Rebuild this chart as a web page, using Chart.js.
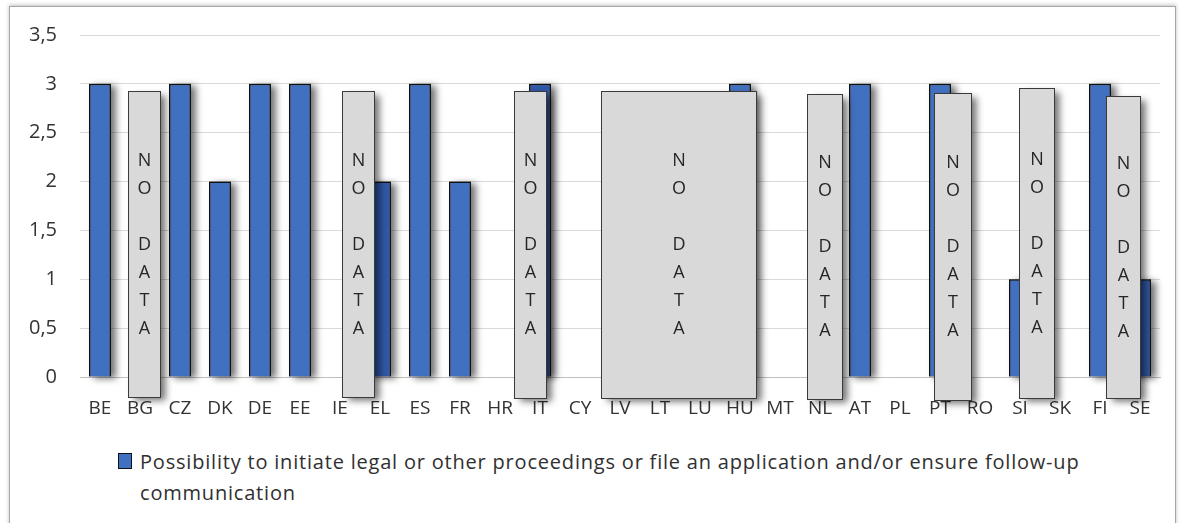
<!DOCTYPE html>
<html lang="en">
<head>
  <meta charset="UTF-8">
  <title>Possibility to initiate proceedings</title>
  <script src="https://cdn.jsdelivr.net/npm/chart.js"></script>
  <style>
    html, body { margin: 0; padding: 0; background: #fff; overflow: hidden; }
    body { width: 1181px; height: 523px; position: relative; font-family: "Open Sans", sans-serif; }
    .frame {
      position: absolute; left: 9px; top: 6px; width: 1165px; height: 540px;
      border: 1px solid #a6a6a6; box-shadow: 0 -1px 4px rgba(0,0,0,0.25);
    }
    #chart { position: absolute; left: 0; top: 0; }
    .legend {
      position: absolute; left: 118px; top: 446px; width: 1050px;
      font-size: 20px; line-height: 31px; letter-spacing: 0.8px; color: #303030;
    }
    .legend .swatch {
      position: absolute; left: 0; top: 7px; width: 12px; height: 14px;
      background: #4070bf; border: 1px solid #111;
    }
    .legend .text { margin-left: 22px; }
  </style>
</head>
<body>
  <div class="frame"></div>
  <canvas id="chart" width="1181" height="430"></canvas>
  <div class="legend">
    <span class="swatch"></span>
    <div class="text">Possibility to initiate legal or other proceedings or file an application and/or ensure follow-up<br>communication</div>
  </div>

  <script>
    // Data (null = hidden behind a "NO DATA" box)
    const countries = ["BE", "BG", "CZ", "DK", "DE", "EE", "IE", "EL", "ES", "FR", "HR", "IT", "CY", "LV",
      "LT", "LU", "HU", "MT", "NL", "AT", "PL", "PT", "RO", "SI", "SK", "FI", "SE"];
    const scores = [3, null, 3, 2, 3, 3, null, 2, 3, 2, 0, 3, 0, null,
      null, null, 3, 0, null, 3, 0, 3, 0, 1, 0, 3, 1];
    const yTicks = [0, 0.5, 1, 1.5, 2, 2.5, 3, 3.5];
    const seriesLabel = "Possibility to initiate legal or other proceedings or file an application and/or ensure follow-up communication";
    const noDataText = ["N", "O", "", "D", "A", "T", "A"];

    // grey "NO DATA" boxes: x in category index units, y in value units
    const noDataBoxes = [
      { from: 0.7, to: 1.5, top: 2.93, bottom: -0.20 },
      { from: 6.05, to: 6.85, top: 2.93, bottom: -0.20 },
      { from: 10.35, to: 11.15, top: 2.93, bottom: -0.21 },
      { from: 12.52, to: 16.4, top: 2.93, bottom: -0.22 },
      { from: 17.68, to: 18.55, top: 2.90, bottom: -0.23 },
      { from: 20.85, to: 21.78, top: 2.91, bottom: -0.24 },
      { from: 22.98, to: 23.85, top: 2.96, bottom: -0.21 },
      { from: 25.15, to: 26.0, top: 2.88, bottom: -0.22 }
    ];

    const darkBars = ["EL", "IT", "SE"];
    const barColors = countries.map(c => darkBars.includes(c) ? "#2f58a6" : "#4070bf");

    // drop shadow behind the bars (the bar element clips its own shadow, so paint it first)
    const barShadow = {
      id: "barShadow",
      beforeDatasetsDraw(chart) {
        const ctx = chart.ctx;
        const meta = chart.getDatasetMeta(0);
        ctx.save();
        ctx.shadowColor = "rgba(0,0,0,0.55)";
        ctx.shadowBlur = 7;
        ctx.shadowOffsetX = 5;
        ctx.shadowOffsetY = 2;
        ctx.fillStyle = "#808080";
        meta.data.forEach((bar, i) => {
          if (!scores[i]) return;
          const { x, y, base, width } = bar.getProps(["x", "y", "base", "width"], true);
          ctx.fillRect(x - width / 2, y, width, base - y);
        });
        ctx.restore();
      }
    };

    // overlay boxes
    const noDataOverlay = {
      id: "noDataOverlay",
      afterDatasetsDraw(chart) {
        const ctx = chart.ctx;
        const x = chart.scales.x, y = chart.scales.y;
        noDataBoxes.forEach(b => {
          const x1 = Math.round(x.getPixelForValue(b.from)) + 0.5;
          const x2 = Math.round(x.getPixelForValue(b.to)) + 0.5;
          const y1 = Math.round(y.getPixelForValue(b.top)) + 0.5;
          const y2 = Math.round(y.getPixelForValue(b.bottom)) + 0.5;
          ctx.save();
          ctx.shadowColor = "rgba(0,0,0,0.55)";
          ctx.shadowBlur = 7;
          ctx.shadowOffsetX = 5;
          ctx.shadowOffsetY = 3;
          ctx.fillStyle = "#d9d9d9";
          ctx.fillRect(x1, y1, x2 - x1, y2 - y1);
          ctx.restore();
          ctx.save();
          ctx.strokeStyle = "#3a3a3a";
          ctx.lineWidth = 1;
          ctx.strokeRect(x1, y1, x2 - x1, y2 - y1);
          ctx.fillStyle = "#262626";
          ctx.font = "18px 'Open Sans'";
          ctx.textAlign = "center";
          ctx.textBaseline = "middle";
          const lh = 28;
          const cx = (x1 + x2) / 2;
          const cy = (y1 + y2) / 2;
          noDataText.forEach((t, i) => {
            ctx.fillText(t, cx, cy + (i - 3) * lh);
          });
          ctx.restore();
        });
      }
    };

    new Chart(document.getElementById("chart"), {
      type: "bar",
      data: {
        labels: countries,
        datasets: [{
          label: seriesLabel,
          data: scores,
          backgroundColor: barColors,
          borderColor: "#111",
          borderWidth: 1.5,
          borderSkipped: "bottom",
          barPercentage: 0.55,
          categoryPercentage: 1
        }]
      },
      options: {
        responsive: false,
        animation: false,
        layout: { padding: { left: 10, right: 21, top: 31, bottom: 0 } },
        plugins: {
          legend: { display: false },
          tooltip: { enabled: false }
        },
        scales: {
          x: {
            grid: { display: false, drawTicks: false },
            border: { display: true, color: "#bfbfbf", width: 1 },
            ticks: {
              color: "#333",
              font: { family: "Open Sans", size: 19 },
              padding: 20,
              maxRotation: 0,
              autoSkip: false
            },
            afterFit(scale) { scale.height = 53; }
          },
          y: {
            min: 0,
            max: 3.5,
            afterBuildTicks(scale) { scale.ticks = yTicks.map(v => ({ value: v })); },
            grid: { color: "#d9d9d9", lineWidth: 1, drawTicks: false },
            border: { display: false },
            ticks: {
              color: "#333",
              font: { family: "Open Sans", size: 20 },
              padding: 23,
              callback: v => String(v).replace(".", ",")
            },
            afterFit(scale) { scale.width = 70; }
          }
        }
      },
      plugins: [barShadow, noDataOverlay]
    });
  </script>
</body>
</html>
